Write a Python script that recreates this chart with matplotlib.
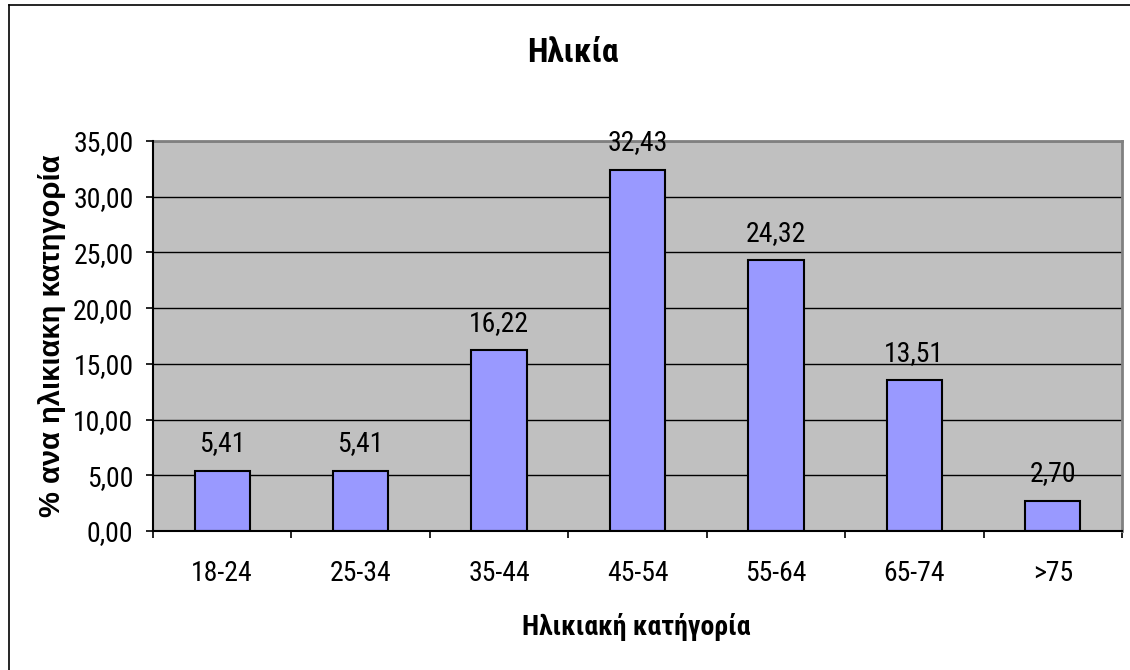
from __future__ import annotations

import matplotlib

matplotlib.use("Agg")
import matplotlib.pyplot as plt
from matplotlib.lines import Line2D
from matplotlib.ticker import FixedLocator, FuncFormatter

# Age distribution, percent of respondents per age band
age_groups = ["18-24", "25-34", "35-44", "45-54", "55-64", "65-74", ">75"]
percentages = [5.41, 5.41, 16.22, 32.43, 24.32, 13.51, 2.70]
y_ticks = [0, 5, 10, 15, 20, 25, 30, 35]

title_text = "Ηλικία"
x_label_text = "Ηλικιακή κατήγορία"
y_label_text = "% ανα ηλικιακη κατηγορία"

FONT = ["Roboto Condensed", "DejaVu Sans"]
# the vertical label keeps normal width along its length
VERTICAL_FONT = ["Liberation Sans", "DejaVu Sans"]
W, H = 1130, 670


def _comma(value: float, _pos=None) -> str:
    return f"{value:.2f}".replace(".", ",")


def create_age_chart(output_path: str = "out.png") -> str:
    plt.rcParams["font.family"] = FONT

    fig = plt.figure(figsize=(W / 100, H / 100), dpi=100)
    fig.patch.set_facecolor("white")

    # chart frame (left and top edges fall inside the image)
    frame_kw = dict(transform=fig.transFigure, color="black", linewidth=1.2)
    fig.lines.append(Line2D([8.5 / W, 8.5 / W], [0, 1 - 4.5 / H], **frame_kw))
    fig.lines.append(Line2D([8.5 / W, 1], [1 - 4.5 / H, 1 - 4.5 / H], **frame_kw))

    left, right, top, bottom = 153, 1122, 141, 531
    ax = fig.add_axes([left / W, 1 - bottom / H, (right - left) / W, (bottom - top) / H])
    ax.set_facecolor("#C0C0C0")

    xs = list(range(len(age_groups)))
    ax.bar(xs, percentages, width=0.4, color="#9999FF", edgecolor="black",
           linewidth=1.5, zorder=3)

    for x, v in zip(xs, percentages):
        ax.annotate(_comma(v), (x, v), xytext=(0, 14), textcoords="offset points",
                    ha="center", va="baseline", fontsize=20, zorder=4)

    ax.set_xlim(-0.5, len(age_groups) - 0.5)
    ax.set_ylim(0, 35)

    # ticks between categories, labels at category centres
    ax.xaxis.set_major_locator(FixedLocator([i - 0.5 for i in range(len(age_groups) + 1)]))
    ax.xaxis.set_minor_locator(FixedLocator(xs))
    ax.set_xticklabels([], minor=False)
    ax.set_xticklabels(age_groups, minor=True)
    ax.tick_params(axis="x", which="major", direction="out", length=5, width=1.2,
                   color="black")
    ax.tick_params(axis="x", which="minor", length=0, pad=21, labelsize=20)

    ax.yaxis.set_major_locator(FixedLocator(y_ticks))
    ax.yaxis.set_major_formatter(FuncFormatter(_comma))
    ax.tick_params(axis="y", direction="out", length=5, width=1.2, color="black",
                   pad=9, labelsize=20)

    ax.grid(axis="y", color="black", linewidth=1.0, zorder=1)
    ax.set_axisbelow(True)

    for side in ("top", "right"):
        ax.spines[side].set_color("#808080")
        ax.spines[side].set_linewidth(2)
    for side in ("left", "bottom"):
        ax.spines[side].set_color("black")
        ax.spines[side].set_linewidth(1.5)
        ax.spines[side].set_zorder(5)

    fig.text(573 / W, 1 - 62 / H, title_text, ha="center", va="baseline",
             fontsize=24, fontweight="bold")
    fig.text(636 / W, 1 - 635 / H, x_label_text, ha="center", va="baseline",
             fontsize=20, fontweight="bold")
    fig.text(52 / W, 1 - 336 / H, y_label_text, ha="center", va="center",
             rotation=90, fontsize=21, fontweight="bold", family=VERTICAL_FONT)

    fig.savefig(output_path, dpi=100)
    plt.close(fig)
    return output_path


def main() -> None:
    print(f"Saved plot to {create_age_chart()}")


if __name__ == "__main__":
    main()
